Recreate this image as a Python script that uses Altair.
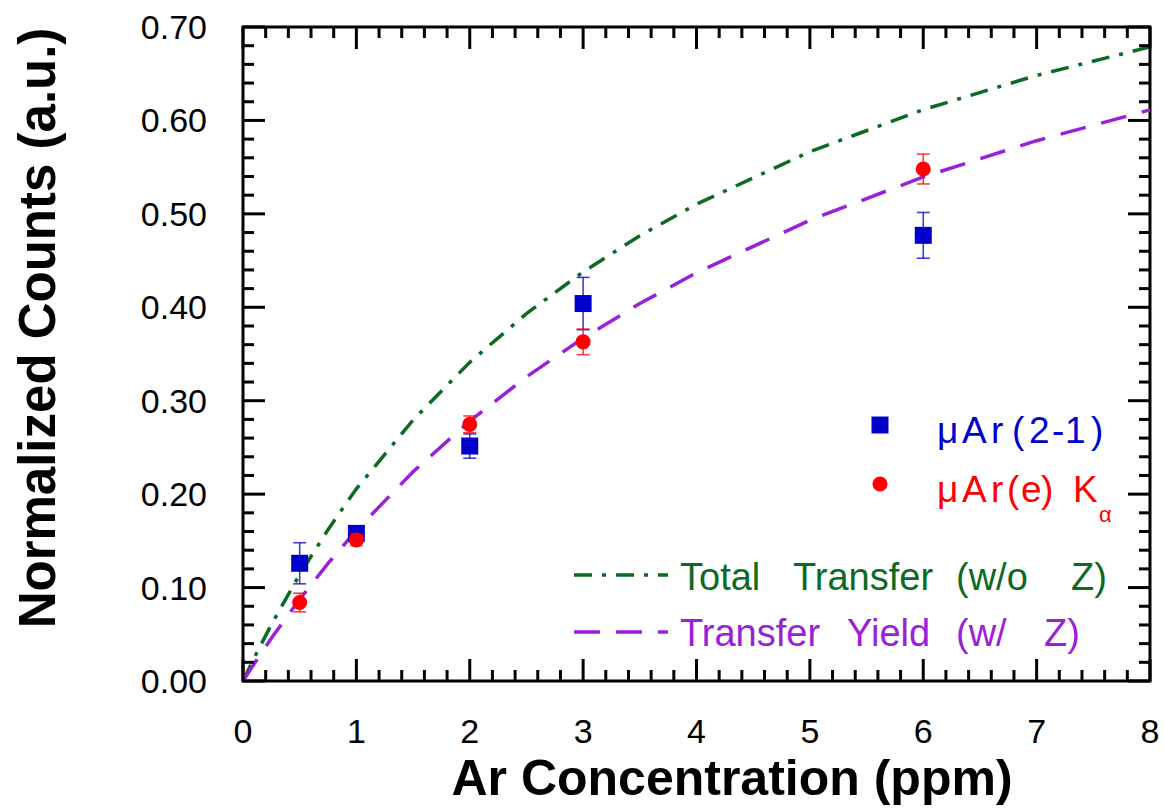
import altair as alt
import numpy as np
import pandas as pd

# Measured yields vs. argon concentration
conc = [0.5, 1, 2, 3, 6]
ar21 = [0.126, 0.158, 0.2515, 0.404, 0.477]
ar21_err = [0.022, 0.008, 0.013, 0.028, 0.0245]
ka = [0.084, 0.151, 0.2747, 0.363, 0.548]
ka_err = [0.010, 0.006, 0.009, 0.0137, 0.016]

# Model curves
curve_x = [0, 0.1, 0.25, 0.5, 0.75, 1, 1.5, 2, 2.5, 3, 3.5, 4, 5, 6, 7, 8]
total_transfer = [0, 0.0251, 0.0604, 0.1141, 0.162, 0.2057, 0.2793, 0.3411,
                  0.3932, 0.4379, 0.4766, 0.5103, 0.5666, 0.6115, 0.6482, 0.6787]
transfer_yield = [0, 0.0188, 0.0457, 0.0875, 0.1259, 0.1612, 0.224, 0.2782,
                  0.3255, 0.3671, 0.404, 0.437, 0.4932, 0.5395, 0.5783, 0.6113]

x_labels = [0, 1, 2, 3, 4, 5, 6, 7, 8]
y_labels = [0.0, 0.1, 0.2, 0.3, 0.4, 0.5, 0.6, 0.7]

W, H = 907, 654
FONT = "Liberation Sans"
BLUE, RED, GREEN, PURPLE = "#0000cc", "#ff0000", "#0b6b22", "#9b20d9"

pts = pd.DataFrame({
    "x": conc,
    "ar21": ar21, "ar21_lo": np.array(ar21) - np.array(ar21_err), "ar21_hi": np.array(ar21) + np.array(ar21_err),
    "ka": ka, "ka_lo": np.array(ka) - np.array(ka_err), "ka_hi": np.array(ka) + np.array(ka_err),
})
curves = pd.DataFrame({"x": curve_x, "total": total_transfer, "yield": transfer_yield})

xs = alt.Scale(domain=[0, 8], nice=False, zero=False)
ys = alt.Scale(domain=[0, 0.7], nice=False, zero=False)


def X(field):
    return alt.X(field, scale=xs, axis=None)


def Y(field):
    return alt.Y(field, scale=ys, axis=None)


green_line = alt.Chart(curves).mark_line(color=GREEN, strokeWidth=3.5, strokeDash=[18, 10, 4, 10]).encode(
    x=X("x:Q"), y=Y("total:Q"))
purple_line = alt.Chart(curves).mark_line(color=PURPLE, strokeWidth=3.5, strokeDash=[26, 16]).encode(
    x=X("x:Q"), y=Y("yield:Q"))


def errbars(lo, hi, color):
    base = alt.Chart(pts)
    bar = base.mark_rule(color=color, strokeWidth=1.6, opacity=0.75).encode(
        x=X("x:Q"), y=Y(f"{lo}:Q"), y2=f"{hi}:Q")
    caps = [base.mark_tick(color=color, orient="horizontal", size=13, thickness=1.6, opacity=0.75).encode(
        x=X("x:Q"), y=Y(f"{f}:Q")) for f in (lo, hi)]
    return [bar] + caps


squares = alt.Chart(pts).mark_square(color=BLUE, size=289, opacity=1).encode(x=X("x:Q"), y=Y("ar21:Q"))
circles = alt.Chart(pts).mark_circle(color=RED, size=227, opacity=1).encode(x=X("x:Q"), y=Y("ka:Q"))

# Inward-pointing ticks on all four sides of the frame
x_major = np.arange(0, 9)
x_minor = np.array([v for v in np.round(np.arange(0, 8.01, 0.2), 2) if abs(v - round(v)) > 1e-6])
y_major = np.round(np.arange(0, 0.71, 0.1), 2)
y_minor = np.array([v for v in np.round(np.arange(0, 0.701, 0.02), 2) if abs(v * 10 - round(v * 10)) > 1e-6])


def xticks(vals, length):
    df = pd.DataFrame({"v": vals})
    bottom = alt.Chart(df).mark_rule(color="black", strokeWidth=3).encode(
        x=X("v:Q"), y=alt.value(H), y2=alt.value(H - length))
    top = alt.Chart(df).mark_rule(color="black", strokeWidth=3).encode(
        x=X("v:Q"), y=alt.value(0), y2=alt.value(length))
    return [bottom, top]


def yticks(vals, length):
    df = pd.DataFrame({"v": vals})
    left = alt.Chart(df).mark_rule(color="black", strokeWidth=3).encode(
        y=Y("v:Q"), x=alt.value(0), x2=alt.value(length))
    right = alt.Chart(df).mark_rule(color="black", strokeWidth=3).encode(
        y=Y("v:Q"), x=alt.value(W), x2=alt.value(W - length))
    return [left, right]


# Tick labels placed through the same scales
xlab = alt.Chart(pd.DataFrame({"v": x_labels})).mark_text(
    font=FONT, fontSize=34, color="black", align="center", baseline="alphabetic").encode(
    x=X("v:Q"), y=alt.value(H + 62), text=alt.Text("v:Q", format="d"))
ylab = alt.Chart(pd.DataFrame({"v": y_labels})).mark_text(
    font=FONT, fontSize=34, color="black", align="right", baseline="alphabetic", dy=12).encode(
    y=Y("v:Q"), x=alt.value(-36), text=alt.Text("v:Q", format=".2f"))

one = pd.DataFrame({"k": [0]})


def label(text, x, y, color="black", size=36, weight="normal", angle=0, align="left"):
    return alt.Chart(one).mark_text(text=text, font=FONT, fontSize=size, fontWeight=weight,
                                    color=color, align=align, baseline="alphabetic", angle=angle).encode(
        x=alt.value(x), y=alt.value(y))


def spaced(items, y, color, size=38):
    # letter-spaced legend text, one piece at a time
    return [label(t, x, y, color, size) for t, x in items]


legend = [
    alt.Chart(one).mark_square(color=BLUE, size=289, opacity=1).encode(x=alt.value(637), y=alt.value(398)),
    *spaced([("\u03bc", 694), ("A", 719), ("r", 748), ("(", 769), ("2", 786),
             ("-", 809), ("1", 822), (")", 848)], 416, BLUE, 37),
    alt.Chart(one).mark_circle(color=RED, size=227, opacity=1).encode(x=alt.value(637), y=alt.value(457)),
    *spaced([("\u03bc", 694), ("A", 719), ("r", 748), ("(", 764), ("e", 778), (")", 798)], 475, RED, 37),
    label("K", 830, 475, RED, 37),
    label("\u03b1", 856, 495, RED, 22),
    alt.Chart(one).mark_rule(color=GREEN, strokeWidth=3.5, strokeDash=[18, 10, 4, 10]).encode(
        x=alt.value(331), x2=alt.value(425), y=alt.value(548)),
    *spaced([("Total", 437), ("Transfer", 550), ("(w/o", 713), ("Z)", 828)], 563, GREEN),
    alt.Chart(one).mark_rule(color=PURPLE, strokeWidth=3.5, strokeDash=[26, 16]).encode(
        x=alt.value(331), x2=alt.value(425), y=alt.value(605)),
    *spaced([("Transfer", 437), ("Yield", 604), ("(w/", 713), ("Z)", 801)], 619, PURPLE),
]

titles = [
    label("Ar Concentration (ppm)", 489, 768, size=50, weight="bold", align="center"),
    label("Normalized Counts (a.u.)", -188, 301, size=51, weight="bold", angle=270, align="center"),
]

layers = [green_line, purple_line]
layers += errbars("ar21_lo", "ar21_hi", BLUE) + [squares]
layers += errbars("ka_lo", "ka_hi", RED) + [circles]
layers += xticks(x_major, 22) + xticks(x_minor, 11) + yticks(y_major, 22) + yticks(y_minor, 11)
layers += [xlab, ylab] + legend + titles

chart = alt.layer(*layers).properties(
    width=W, height=H,
    autosize=alt.AutoSizeParams(type="none"),
    padding={"left": 243, "top": 27, "right": 14, "bottom": 128},
    background="white",
).configure_view(stroke="black", strokeWidth=3)

chart.save("out.html", embed_options={"renderer": "svg", "actions": False})
